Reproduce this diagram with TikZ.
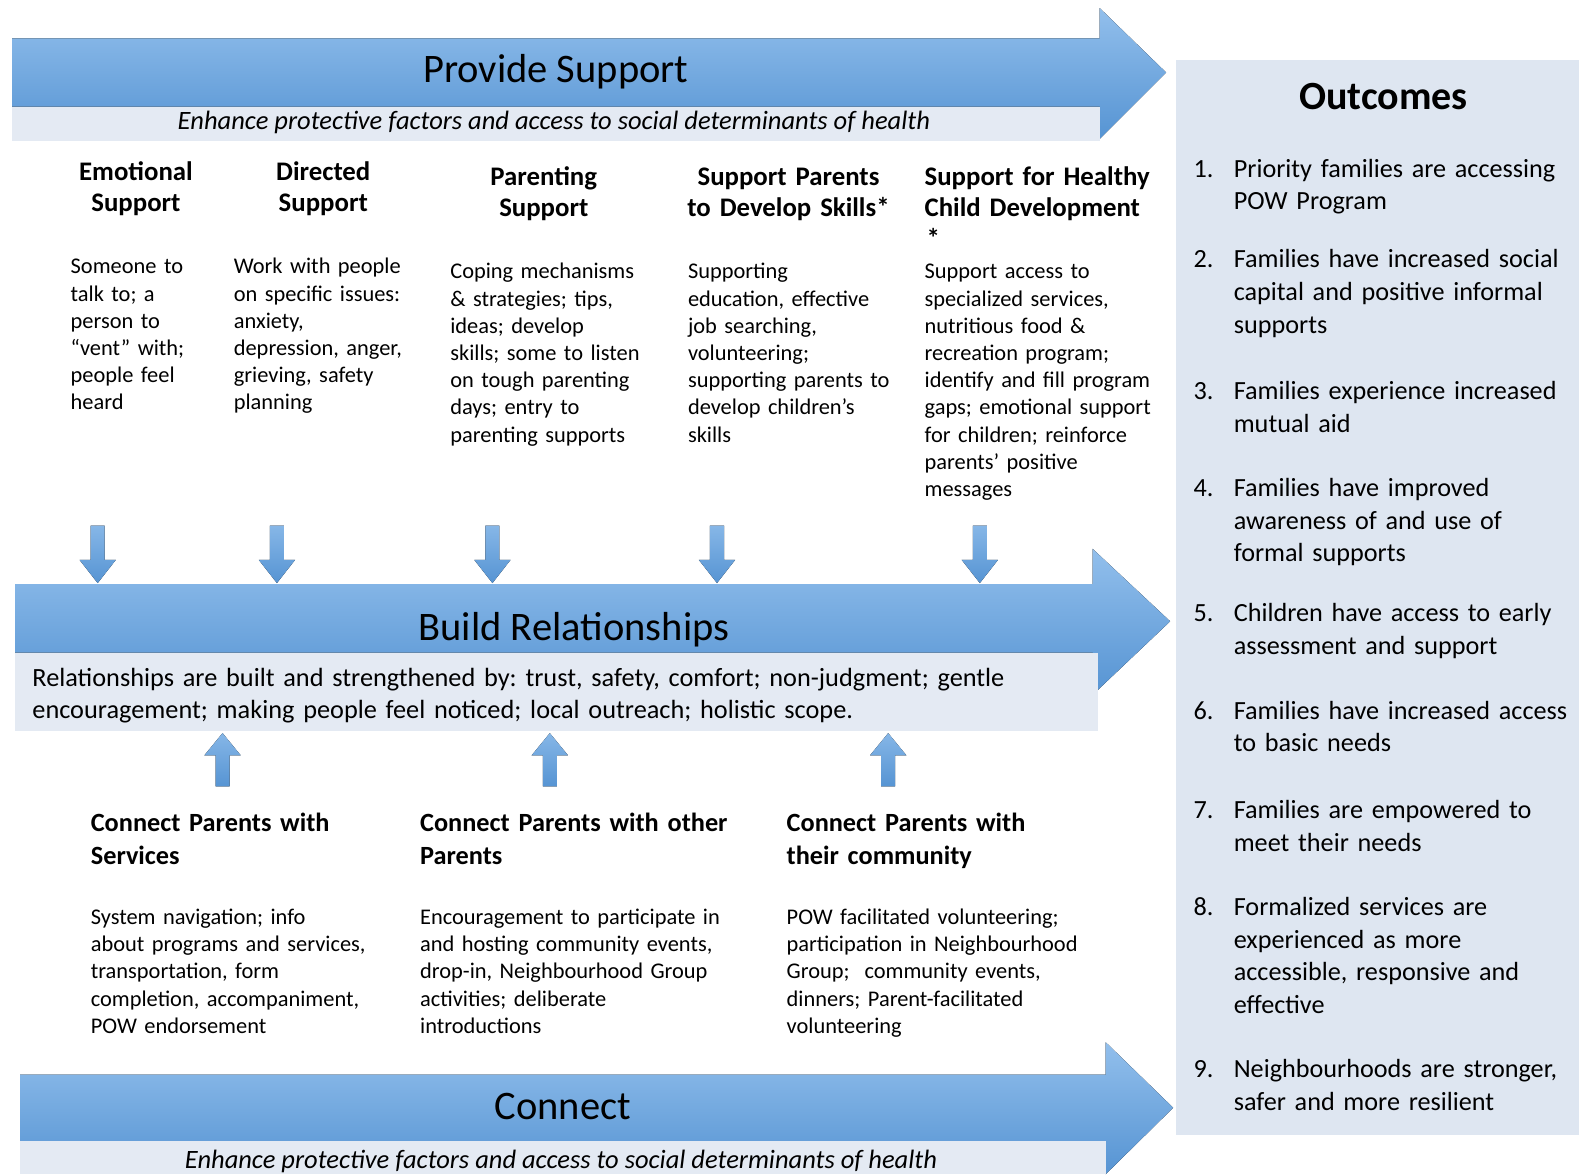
\documentclass[tikz,border=0pt]{standalone}
\usepackage{fontspec}
\setmainfont{Carlito}
\usetikzlibrary{positioning}
\definecolor{arrowtop}{RGB}{146,191,236}
\definecolor{arrowbot}{RGB}{86,148,211}
\definecolor{bandgray}{RGB}{228,234,243}
\definecolor{panelgray}{RGB}{222,230,241}
\frenchspacing

\begin{document}
\begin{tikzpicture}[x=1.007pt,y=-1.007pt,
  bigarrow/.style={top color=arrowtop, bottom color=arrowbot, draw=none},
  smallarrow/.style={top color=arrowtop!80!arrowbot, bottom color=arrowbot, draw=none},
  band/.style={fill=bandgray, draw=none},
  title/.style={font=\fontsize{40.5}{45}\selectfont, anchor=base, inner sep=0},
  subtitle/.style={font=\itshape\fontsize{26.5}{30}\selectfont, anchor=base, inner sep=0},
  colhead/.style={font=\bfseries\fontsize{26.8}{31}\selectfont, align=center, text width=260pt, anchor=base, inner sep=0},
  colbody/.style={font=\fontsize{22.4}{27.2}\selectfont, align=left, text width=360pt, anchor=base west, inner sep=0},
  linkhead/.style={font=\bfseries\fontsize{26.3}{32.2}\selectfont, align=left, text width=360pt, anchor=base west, inner sep=0},
  outnum/.style={font=\fontsize{26.2}{32.7}\selectfont, anchor=base west, inner sep=0},
  outitem/.style={font=\fontsize{26.2}{32.7}\selectfont, align=left, text width=360pt, anchor=base west, inner sep=0},
]
\useasboundingbox (0,0) rectangle (1568,1166);

% outcomes panel
\fill[panelgray] (1168,60) rectangle (1568,1127);

% three big arrows with their bands
\fill[bigarrow] (12,38) -- (1092,38) -- (1092,8) -- (1158,72) -- (1092,138) -- (1092,106) -- (12,106) -- cycle;
\fill[band] (12,106) rectangle (1092,140);
\fill[bigarrow] (15,580) -- (1085,580) -- (1085,545) -- (1162,617) -- (1085,690) -- (1085,648) -- (15,648) -- cycle;
\fill[band] (15,648) rectangle (1090,726);
\fill[bigarrow] (20,1067) -- (1098,1067) -- (1098,1035) -- (1165,1100) -- (1098,1166) -- (1098,1133) -- (20,1133) -- cycle;
\fill[band] (20,1133) rectangle (1098,1166);

\node[title] (support) at (552,82) {Provide Support};
\node[subtitle] (supportsub) at (550,129) {Enhance protective factors and access to social determinants of health};
\node[title] (relations) at (570,636) {Build Relationships};
\node[title] (connect) at (559,1112) {Connect};
\node[subtitle] (connectsub) at (557,1160) {Enhance protective factors and access to social determinants of health};
\node[font=\fontsize{26.3}{32.2}\selectfont, align=left, text width=1060pt, anchor=base west, inner sep=0] (relationstext) at (32,682)
  {Relationships are built and strengthened by: trust, safety, comfort; non-judgment; gentle\\
   encouragement; making people feel noticed; local outreach; holistic scope.};

% support columns
\node[colhead] (emohead) at (135,179) {Emotional\\Support};
\node[colhead] (dirhead) at (321,179) {Directed\\Support};
\node[colhead] (parhead) at (540,184) {Parenting\\Support};
\node[colhead] (skillhead) at (783,184) {Support Parents\\to Develop Skills*};
\node[colhead, align=left, anchor=base west] (childhead) at (918,184) {Support for Healthy\\Child Development\\\hspace*{2pt}*};

\node[colbody] (emobody) at (70,272) {Someone to\\talk to; a\\person to\\“vent” with;\\people feel\\heard};
\node[colbody] (dirbody) at (232,272) {Work with people\\on specific issues:\\anxiety,\\depression, anger,\\grieving, safety\\planning};
\node[colbody] (parbody) at (447,277) {Coping mechanisms\\\& strategies; tips,\\ideas; develop\\skills; some to listen\\on tough parenting\\days; entry to\\parenting supports};
\node[colbody] (skillbody) at (683,277) {Supporting\\education, effective\\job searching,\\volunteering;\\supporting parents to\\develop children’s\\skills};
\node[colbody] (childbody) at (918,277) {Support access to\\specialized services,\\nutritious food \&\\recreation program;\\identify and fill program\\gaps; emotional support\\for children; reinforce\\parents’ positive\\messages};

% block arrows into and out of the middle arrow
\foreach \x in {97,275,489,712,973}
  \fill[smallarrow] ({\x-7},522) -- ({\x+7},522) -- ({\x+7},556) -- ({\x+18},556) -- (\x,579) -- ({\x-18},556) -- ({\x-7},556) -- cycle;
\foreach \x in {221,546,882}
  \fill[smallarrow] ({\x-7},781) -- ({\x+7},781) -- ({\x+7},750) -- ({\x+18},750) -- (\x,728) -- ({\x-18},750) -- ({\x-7},750) -- cycle;

% connect columns
\node[linkhead] (servhead) at (90,826) {Connect Parents with\\Services};
\node[linkhead] (parentshead) at (417,826) {Connect Parents with other\\Parents};
\node[linkhead] (commhead) at (781,826) {Connect Parents with\\their community};

\node[colbody] (servbody) at (90,918) {System navigation; info\\about programs and services,\\transportation, form\\completion, accompaniment,\\POW endorsement};
\node[colbody] (parentsbody) at (417,918) {Encouragement to participate in\\and hosting community events,\\drop-in, Neighbourhood Group\\activities; deliberate\\introductions};
\node[colbody] (commbody) at (781,918) {POW facilitated volunteering;\\participation in Neighbourhood\\Group;\ \ community events,\\dinners; Parent-facilitated\\volunteering};

% outcomes
\node[font=\bfseries\fontsize{40}{44}\selectfont, anchor=base, inner sep=0] (outcomes) at (1374,109) {Outcomes};
\foreach \n/\y/\t in {
  1/176/{Priority families are accessing\\POW Program},
  2/266/{Families have increased social\\capital and positive informal\\supports},
  3/397/{Families experience increased\\mutual aid},
  4/493/{Families have improved\\awareness of and use of\\formal supports},
  5/617/{Children have access to early\\assessment and support},
  6/714/{Families have increased access\\to basic needs},
  7/813/{Families are empowered to\\meet their needs},
  8/909/{Formalized services are\\experienced as more\\accessible, responsive and\\effective},
  9/1070/{Neighbourhoods are stronger,\\safer and more resilient}}{
  \node[outnum] (num\n) at (1185,\y) {\n.};
  \node[outitem] (item\n) at (1225,\y) {\t};
}
\end{tikzpicture}
\end{document}
